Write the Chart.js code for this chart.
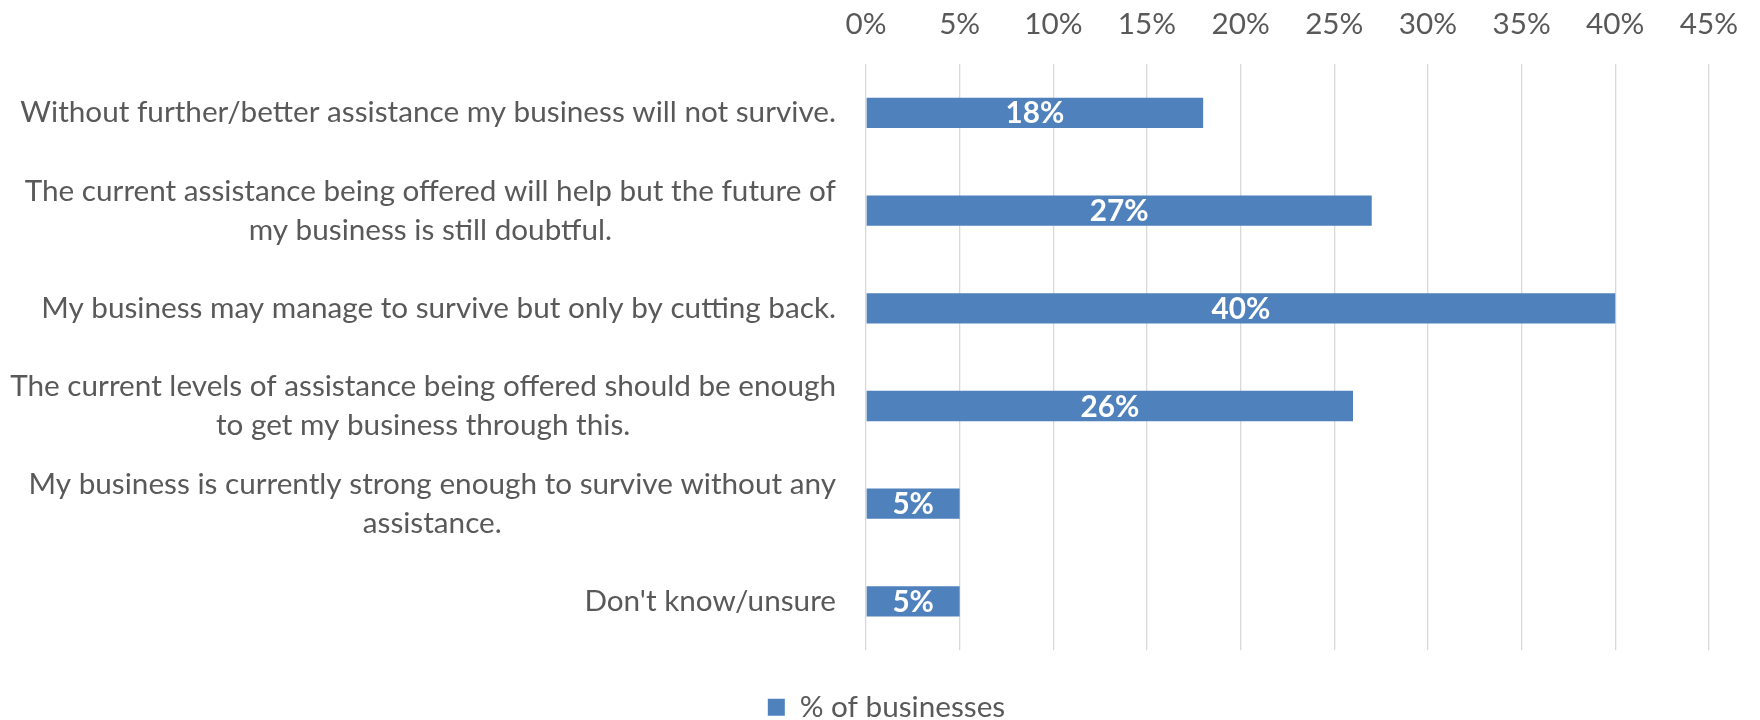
<!DOCTYPE html>
<html>
<head>
<meta charset="utf-8">
<script src="https://cdn.jsdelivr.net/npm/chart.js@4.4.1/dist/chart.umd.min.js"></script>
<style>
  html, body { margin: 0; padding: 0; background: #fff; }
</style>
</head>
<body>
<canvas id="chart" width="1760" height="720"></canvas>
<script>
// categories, one array per label (each entry is a line)
const categories = [
    ['Without further/better assistance my business will not survive.'],
    ['The current assistance being offered will help but the future of', 'my business is still doubtful.'],
    ['My business may manage to survive but only by cutting back.'],
    ['The current levels of assistance being offered should be enough', 'to get my business through this.'],
    ['My business is currently strong enough to survive without any', 'assistance.'],
    ["Don't know/unsure"]
];
const shares = [0.18, 0.27, 0.40, 0.26, 0.05, 0.05];
const xTickValues = [0, 0.05, 0.10, 0.15, 0.20, 0.25, 0.30, 0.35, 0.40, 0.45];
const seriesName = '% of businesses';

const BAR_BLUE = '#4F81BD';
const TEXT_GREY = '#595959';
const GRID_GREY = '#D9D9D9';
const FONT = 'Lato';
const FONT_SIZE = 29.7;
const LINE_H = 39;

const pct = v => Math.round(v * 100) + '%';

// category labels: block right-aligned to the axis, lines centred inside the block
const categoryLabels = {
    id: 'categoryLabels',
    afterDraw(chart) {
        const ctx = chart.ctx;
        const yScale = chart.scales.y;
        const right = chart.chartArea.left - 30;
        ctx.save();
        ctx.font = FONT_SIZE + 'px ' + FONT;
        ctx.fillStyle = TEXT_GREY;
        ctx.textAlign = 'center';
        ctx.textBaseline = 'middle';
        categories.forEach((lines, i) => {
            const cy = yScale.getPixelForValue(i);
            const w = Math.max(...lines.map(l => ctx.measureText(l).width));
            const cx = right - w / 2;
            lines.forEach((l, j) => {
                ctx.fillText(l, cx, cy + (j - (lines.length - 1) / 2) * LINE_H);
            });
        });
        ctx.restore();
    }
};

// white bold value in the middle of each bar
const barValues = {
    id: 'barValues',
    afterDatasetsDraw(chart) {
        const ctx = chart.ctx;
        ctx.save();
        ctx.font = 'bold ' + FONT_SIZE + 'px ' + FONT;
        ctx.fillStyle = '#FFFFFF';
        ctx.textAlign = 'center';
        ctx.textBaseline = 'middle';
        chart.getDatasetMeta(0).data.forEach((bar, i) => {
            ctx.fillText(pct(shares[i]), (bar.x + bar.base) / 2, bar.y + 1);
        });
        ctx.restore();
    }
};

new Chart(document.getElementById('chart').getContext('2d'), {
    type: 'bar',
    data: {
        labels: categories,
        datasets: [{
            label: seriesName,
            data: shares,
            backgroundColor: BAR_BLUE,
            borderWidth: 0,
            categoryPercentage: 1,
            barPercentage: 0.31
        }]
    },
    options: {
        indexAxis: 'y',
        responsive: false,
        animation: false,
        layout: { padding: { top: 7, right: 47, bottom: -12, left: 60 } },
        scales: {
            x: {
                position: 'top',
                min: 0,
                max: 0.45,
                afterBuildTicks: s => { s.ticks = xTickValues.map(v => ({ value: v })); },
                afterFit: s => { s.height = 57; },
                ticks: {
                    callback: v => pct(v),
                    color: TEXT_GREY,
                    font: { family: FONT, size: FONT_SIZE },
                    padding: 22,
                    maxRotation: 0
                },
                grid: { color: GRID_GREY, lineWidth: 1.3, drawTicks: false },
                border: { display: false }
            },
            y: {
                ticks: { display: false },
                grid: { display: false, drawTicks: false },
                border: { display: false },
                afterFit: s => { s.width = 806; }
            }
        },
        plugins: {
            legend: {
                position: 'bottom',
                labels: {
                    boxWidth: 17,
                    boxHeight: 17,
                    padding: 42,
                    color: TEXT_GREY,
                    font: { family: FONT, size: FONT_SIZE }
                }
            },
            tooltip: { enabled: false }
        }
    },
    plugins: [categoryLabels, barValues]
});
</script>
</body>
</html>
